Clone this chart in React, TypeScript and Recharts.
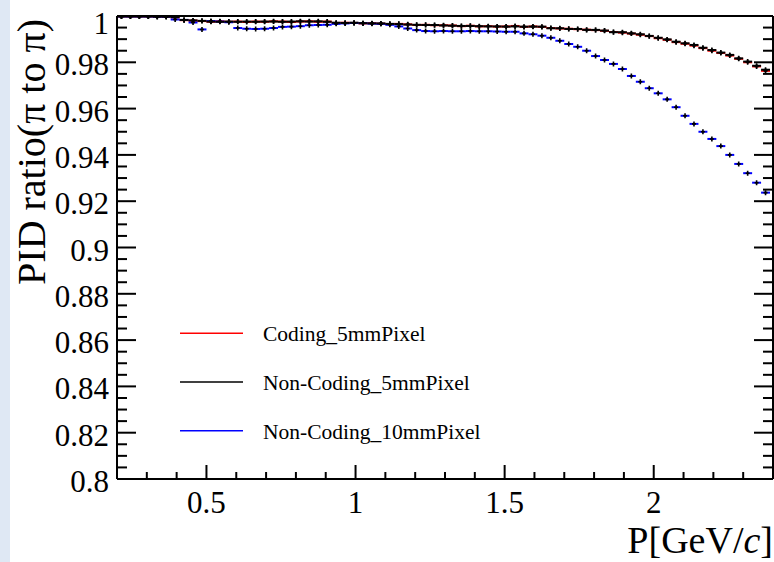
import React from 'react';
import { ScatterChart, Scatter, XAxis, YAxis, ErrorBar, Legend } from 'recharts';

// Histogram binning (GeV/c)
const BIN_START = 0.2;
const BIN_WIDTH = 0.03;

const CODING_5MM = [
  0.9998, 0.9998, 0.9998, 0.9998, 0.9997, 0.9997, 0.9994, 0.9982, 0.998, 0.9978,
  0.9975, 0.9977, 0.9975, 0.9976, 0.9974, 0.9976, 0.9975, 0.9977, 0.9976, 0.9974,
  0.9976, 0.9977, 0.9975, 0.9976,
  0.997, 0.9971, 0.997, 0.9968, 0.9969, 0.9967,
  0.9965, 0.9966, 0.9964, 0.9961, 0.9962, 0.996,
  0.996, 0.9959, 0.9956, 0.9958, 0.9955, 0.9956, 0.9954,
  0.9955, 0.9957, 0.9953, 0.9955, 0.9953, 0.9948, 0.9946, 0.9945, 0.9943, 0.9941,
  0.9939, 0.9936, 0.9931, 0.9928, 0.9924, 0.9919, 0.9913, 0.9904, 0.9897, 0.9887,
  0.988, 0.9872, 0.9861, 0.985, 0.984, 0.9829, 0.9815, 0.98, 0.9782, 0.9763,
];

const NONCODING_5MM = [
  0.9998, 0.9998, 0.9998, 0.9998, 0.9997, 0.9997, 0.9995, 0.9983, 0.9981, 0.9979,
  0.9976, 0.9975, 0.9976, 0.9975, 0.9976, 0.9975, 0.9976, 0.9976, 0.9975, 0.9976,
  0.9977, 0.9976, 0.9977, 0.9975,
  0.9971, 0.997, 0.9971, 0.9969, 0.9968, 0.9968,
  0.9966, 0.9965, 0.9963, 0.9962, 0.9961, 0.9961,
  0.9959, 0.9958, 0.9957, 0.9957, 0.9956, 0.9955, 0.9955,
  0.9954, 0.9955, 0.9954, 0.9954, 0.9954, 0.9947, 0.9947, 0.9944, 0.9944, 0.994,
  0.994, 0.9937, 0.993, 0.993, 0.9925, 0.9921, 0.9914, 0.9906, 0.9899, 0.9889,
  0.9882, 0.9875, 0.9863, 0.9853, 0.9842, 0.9832, 0.9817, 0.9803, 0.9785, 0.9768,
];

const NONCODING_10MM = [
  0.9998, 0.9998, 0.9998, 0.9998, 0.9997, 0.9997, 0.9985, 0.9983, 0.9972, 0.9942,
  0.9978, 0.9976, 0.9973,
  0.9948, 0.9945, 0.9944, 0.9945, 0.9948,
  0.9953, 0.9954, 0.9956,
  0.996, 0.9961, 0.9962,
  0.9966, 0.9968, 0.997, 0.9969, 0.9967, 0.9966,
  0.9962, 0.9955, 0.9946, 0.9939,
  0.9935, 0.9934, 0.9935, 0.9934, 0.9934, 0.9935, 0.9934, 0.9934, 0.9933,
  0.9932, 0.9932, 0.9925, 0.9921, 0.9915, 0.9906, 0.9893, 0.9879, 0.9867, 0.985,
  0.9827, 0.981, 0.9793, 0.9771, 0.9741, 0.9716, 0.9688, 0.9666, 0.964, 0.9606,
  0.9569, 0.9534, 0.95, 0.9469, 0.9438, 0.94, 0.9361, 0.9321, 0.928, 0.9237,
];

const SERIES = [
  { name: 'Coding_5mmPixel', color: '#ff0000', values: CODING_5MM },
  { name: 'Non-Coding_5mmPixel', color: '#000000', values: NONCODING_5MM },
  { name: 'Non-Coding_10mmPixel', color: '#0000ff', values: NONCODING_10MM },
];

const DRAW_ORDER = [0, 2, 1];

const X_DOMAIN: [number, number] = [0.2, 2.4];
const Y_DOMAIN: [number, number] = [0.8, 1.0];
const X_MAJOR_LABELS = ['0.5', '1', '1.5', '2'];
const Y_MAJOR_LABELS = ['0.8', '0.82', '0.84', '0.86', '0.88', '0.9', '0.92', '0.94', '0.96', '0.98', '1'];
const X_TICKS = Array.from({ length: 21 }, (_, i) => +(0.3 + 0.1 * i).toFixed(2));
const Y_TICKS = Array.from({ length: 41 }, (_, i) => +(0.8 + 0.005 * i).toFixed(3));

const FONT = '"Liberation Serif", "Times New Roman", serif';
const serif = { fontFamily: FONT };

const toRows = (values: number[]) =>
  values.map((v, i) => ({ p: BIN_START + BIN_WIDTH * (i + 0.5), v, ex: BIN_WIDTH / 2 }));

const BottomTick = (props: any) => {
  const { x, y, payload } = props;
  const label = String(payload.value);
  const major = X_MAJOR_LABELS.includes(label);
  return (
    <g>
      <line x1={x} x2={x} y1={y} y2={y - (major ? 14 : 7)} stroke="#000" strokeWidth={2} />
      {major && (
        <text x={x} y={y + 34} textAnchor="middle" fontSize={31} style={serif} fill="#000">
          {label}
        </text>
      )}
    </g>
  );
};

const TopTick = (props: any) => {
  const { x, y, payload } = props;
  const major = X_MAJOR_LABELS.includes(String(payload.value));
  return <line x1={x} x2={x} y1={y} y2={y + (major ? 14 : 7)} stroke="#000" strokeWidth={2} />;
};

const LeftTick = (props: any) => {
  const { x, y, payload } = props;
  const label = String(payload.value);
  const major = Y_MAJOR_LABELS.includes(label);
  const dy = payload.value === Y_DOMAIN[1] ? 7 : 2.5;
  return (
    <g>
      <line x1={x} x2={x + (major ? 19 : 10)} y1={y} y2={y} stroke="#000" strokeWidth={2} />
      {major && (
        <text x={x - 8} y={y + dy} textAnchor="end" dominantBaseline="central" fontSize={31} style={serif} fill="#000">
          {label}
        </text>
      )}
    </g>
  );
};

const RightTick = (props: any) => {
  const { x, y, payload } = props;
  const major = Y_MAJOR_LABELS.includes(String(payload.value));
  return <line x1={x} x2={x - (major ? 19 : 10)} y1={y} y2={y} stroke="#000" strokeWidth={2} />;
};

const Marker = (props: any) => {
  const { cx, cy } = props;
  if (cx == null || cy == null) return null;
  return (
    <path d={`M${cx - 2},${cy}H${cx + 2}M${cx},${cy - 2.5}V${cy + 2.5}`} stroke="#000" strokeWidth={1.6} fill="none" />
  );
};

const XTitle = (props: any) => {
  const vb = props.viewBox || { x: 117, y: 479, width: 656 };
  const x = vb.x + vb.width;
  const y = vb.y + 74;
  return (
    <text x={x} y={y} textAnchor="end" fontSize={38} style={serif} fill="#000">
      P[GeV/<tspan fontStyle="italic">c</tspan>]
    </text>
  );
};

const YTitle = (props: any) => {
  const vb = props.viewBox || { x: 116, y: 16 };
  const x = vb.x - 71;
  const y = vb.y + 3;
  return (
    <text x={x} y={y} transform={`rotate(-90 ${x} ${y})`} textAnchor="end" fontSize={40} style={serif} fill="#000">
      PID ratio(π to π)
    </text>
  );
};

const LegendBox = () => (
  <svg width={340} height={140} style={{ overflow: 'visible' }}>
    {SERIES.map((s, i) => {
      const yy = 23.3 + i * 48.7;
      return (
        <g key={s.name}>
          <line x1={10} x2={73} y1={yy} y2={yy} stroke={s.color} strokeWidth={1.6} />
          <text x={93} y={yy + 1} dominantBaseline="central" fontSize={21.5} style={serif} fill="#000">
            {s.name}
          </text>
        </g>
      );
    })}
  </svg>
);

export default function App() {
  return (
    <div style={{ position: 'absolute', left: 0, top: 0, width: 774, height: 562, background: '#ffffff', overflow: 'hidden' }}>
      <div style={{ position: 'absolute', left: 0, top: 0, width: 10, height: 562, background: '#dfe8f4' }} />
      <div style={{ position: 'absolute', left: 0, top: 0 }}>
        <ScatterChart width={774} height={562} margin={{ top: 15, right: 0, bottom: 82, left: 116 }}>
          <XAxis
            xAxisId="b"
            type="number"
            dataKey="p"
            domain={X_DOMAIN}
            allowDataOverflow
            ticks={X_TICKS}
            interval={0}
            height={1}
            tickSize={0}
            tickMargin={0}
            tickLine={false}
            tick={<BottomTick />}
            axisLine={{ stroke: '#000', strokeWidth: 2 }}
            label={(p: any) => <XTitle {...p} />}
          />
          <XAxis
            xAxisId="t"
            orientation="top"
            type="number"
            domain={X_DOMAIN}
            allowDataOverflow
            ticks={X_TICKS}
            interval={0}
            height={1}
            tickSize={0}
            tickMargin={0}
            tickLine={false}
            tick={<TopTick />}
            axisLine={{ stroke: '#000', strokeWidth: 2 }}
          />
          <YAxis
            yAxisId="l"
            type="number"
            dataKey="v"
            domain={Y_DOMAIN}
            allowDataOverflow
            ticks={Y_TICKS}
            interval={0}
            width={1}
            tickSize={0}
            tickMargin={0}
            tickLine={false}
            tick={<LeftTick />}
            axisLine={{ stroke: '#000', strokeWidth: 2 }}
            label={(p: any) => <YTitle {...p} />}
          />
          <YAxis
            yAxisId="r"
            orientation="right"
            type="number"
            domain={Y_DOMAIN}
            allowDataOverflow
            ticks={Y_TICKS}
            interval={0}
            width={1}
            tickSize={0}
            tickMargin={0}
            tickLine={false}
            tick={<RightTick />}
            axisLine={{ stroke: '#000', strokeWidth: 2 }}
          />
          <Legend
            layout="vertical"
            align="center"
            verticalAlign="middle"
            content={() => <LegendBox />}
            wrapperStyle={{ position: 'absolute', left: 170, top: 310, width: 340, height: 140 }}
          />
          {DRAW_ORDER.map((idx) => {
            const s = SERIES[idx];
            return (
              <Scatter
                key={s.name}
                name={s.name}
                xAxisId="b"
                yAxisId="l"
                data={toRows(s.values)}
                fill={s.color}
                shape={<Marker />}
                isAnimationActive={false}
              >
                <ErrorBar dataKey="ex" direction="x" width={0} stroke={s.color} strokeWidth={2} />
              </Scatter>
            );
          })}
        </ScatterChart>
      </div>
    </div>
  );
}
